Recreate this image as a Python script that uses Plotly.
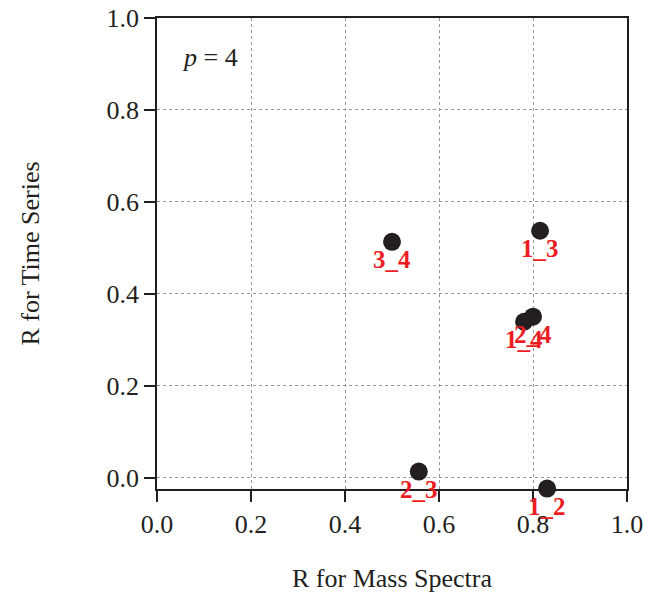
import plotly.graph_objects as go

labels = ["1_2", "1_3", "1_4", "2_3", "2_4", "3_4"]
r_mass = [0.830, 0.815, 0.781, 0.557, 0.800, 0.500]
r_time = [-0.024, 0.537, 0.339, 0.013, 0.350, 0.513]
tick_vals = [0.0, 0.2, 0.4, 0.6, 0.8, 1.0]
tick_text = ["0.0", "0.2", "0.4", "0.6", "0.8", "1.0"]
x_title = "R for Mass Spectra"
y_title = "R for Time Series"

FONT = "Liberation Serif, Times New Roman, serif"
DARK = "#231f20"
RED = "#ed1c24"

fig = go.Figure()
fig.add_trace(go.Scatter(
    x=r_mass, y=r_time, mode="markers",
    marker=dict(size=18, color=DARK),
    cliponaxis=False, showlegend=False, hoverinfo="skip",
))

for lab, x, y in zip(labels, r_mass, r_time):
    fig.add_annotation(
        x=x, y=y, text=f"<b>{lab}</b>", showarrow=False,
        yshift=-18, font=dict(family=FONT, size=25, color=RED),
    )

fig.add_annotation(
    x=0.113, y=0.915, text="<i>p</i> = 4", showarrow=False,
    font=dict(family=FONT, size=26, color=DARK),
)

fig.add_annotation(
    xref="paper", yref="paper", x=0.5, y=-0.189, yanchor="middle",
    text=x_title, showarrow=False,
    font=dict(family=FONT, size=26, color=DARK),
)
fig.add_annotation(
    xref="paper", yref="paper", x=-0.270, y=0.5, xanchor="center",
    text=y_title, showarrow=False, textangle=-90,
    font=dict(family=FONT, size=26, color=DARK),
)

axis_common = dict(
    showline=True, linecolor=DARK, linewidth=1.5, mirror=True,
    ticks="outside", ticklen=11, tickwidth=1.5, tickcolor=DARK,
    showgrid=True, gridcolor="#999999", griddash="dot", gridwidth=1,
    zeroline=False, tickvals=tick_vals, ticktext=tick_text,
    tickfont=dict(family=FONT, size=26, color=DARK),
    automargin=False,
)

fig.update_xaxes(range=[0, 1], **axis_common)
fig.update_yaxes(range=[-0.025, 1.0], **axis_common)

fig.update_layout(
    width=658, height=601,
    margin=dict(l=157, r=31, t=18, b=112),
    plot_bgcolor="white", paper_bgcolor="white",
    font=dict(family=FONT, color=DARK),
)

fig.write_html("out.html", config={"displayModeBar": False},
               post_script="document.body.style.margin='0';")
